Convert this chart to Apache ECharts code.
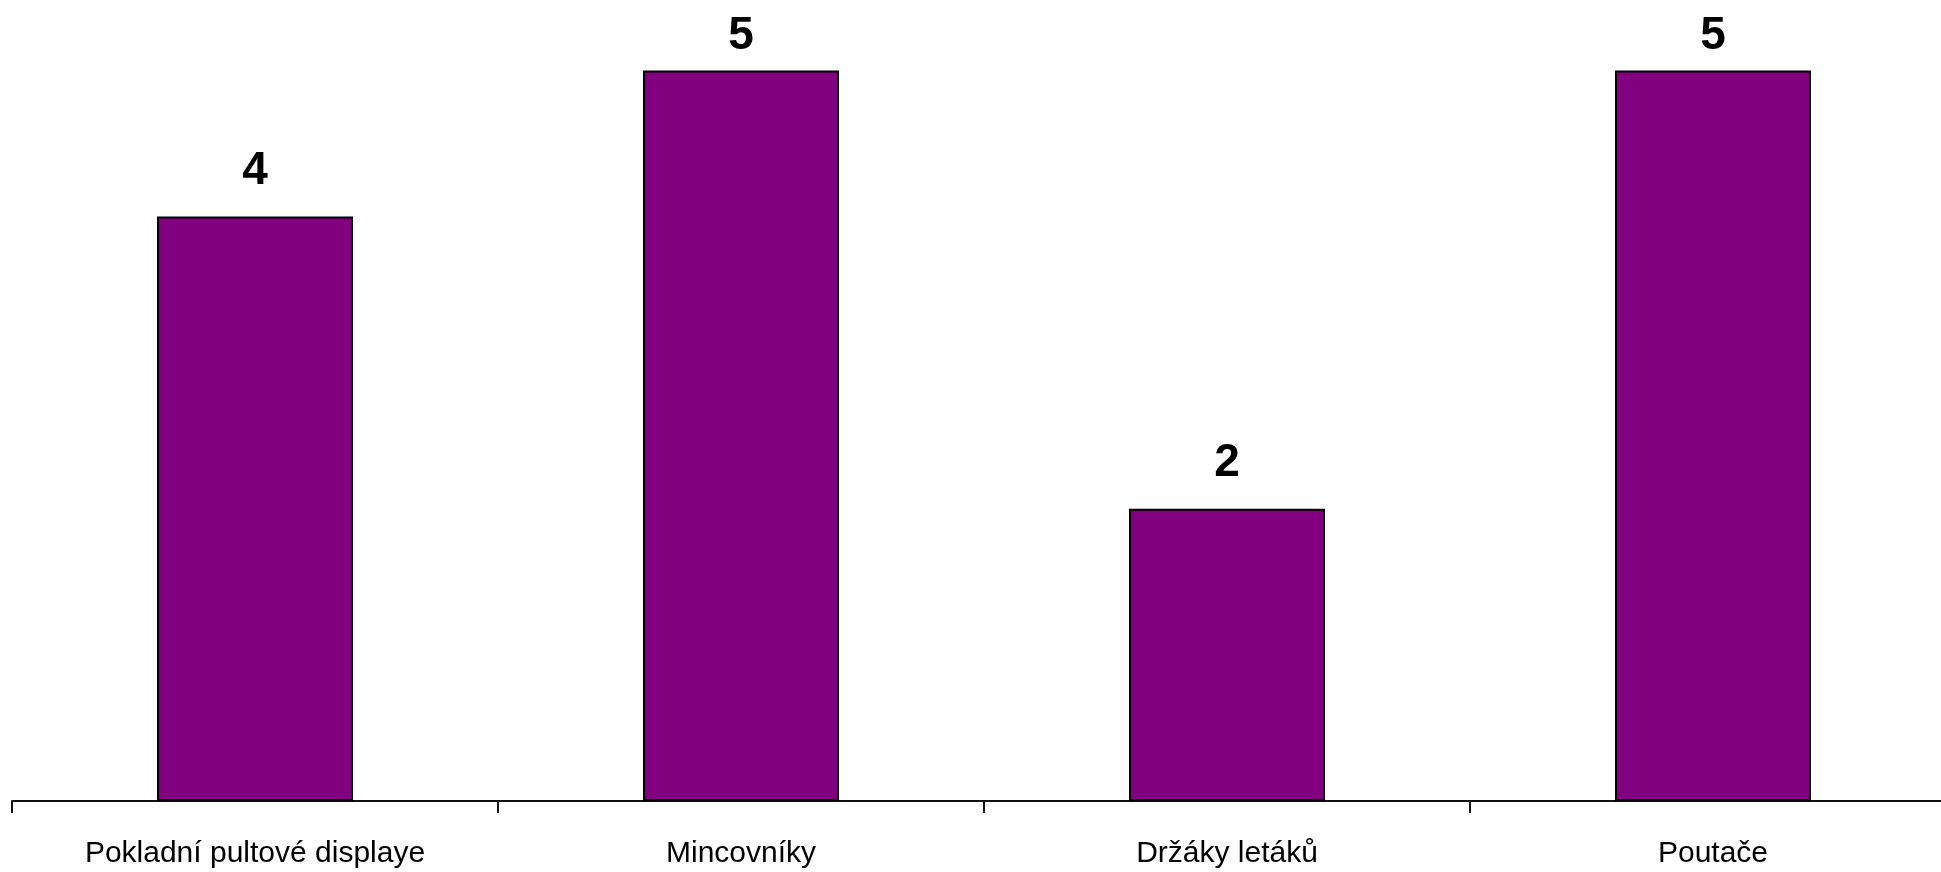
<!DOCTYPE html>
<html><head><meta charset="utf-8">
<script src="https://cdn.jsdelivr.net/npm/echarts@6/dist/echarts.min.js"></script>
<style>html,body{margin:0;padding:0;background:#fff}#c{width:1941px;height:872px}</style>
</head><body><div id="c"></div>
<script>
const categories = ["Pokladní pultové displaye", "Mincovníky", "Držáky letáků", "Poutače"];
const values = [4, 5, 2, 5];
const yMax = 5;

const chart = echarts.init(document.getElementById('c'), null, {renderer: 'canvas'});
chart.setOption({
  animation: false,
  grid: {left: 12, top: 70.5, width: 1944, bottom: 71, containLabel: false, outerBoundsMode: 'none'},
  xAxis: {
    type: 'category', data: categories,
    axisLine: {lineStyle: {color: '#111', width: 2}},
    axisTick: {show: true, length: 12, lineStyle: {color: '#111', width: 2}},
    axisLabel: {color: '#000', fontFamily: 'Liberation Sans, Arial', fontSize: 30, margin: 38}
  },
  yAxis: {type: 'value', min: 0, max: yMax, show: false, splitLine: {show: false}},
  series: [{
    type: 'bar', barWidth: 196,
    data: values.map(v => v >= yMax ? {value: v, label: {distance: 11}} : v),
    itemStyle: {color: '#800080', borderColor: '#000', borderWidth: 2},
    label: {show: true, position: 'top', distance: 22, color: '#000',
      fontFamily: 'Liberation Sans, Arial', fontWeight: 'bold', fontSize: 46}
  }]
});
</script></body></html>
